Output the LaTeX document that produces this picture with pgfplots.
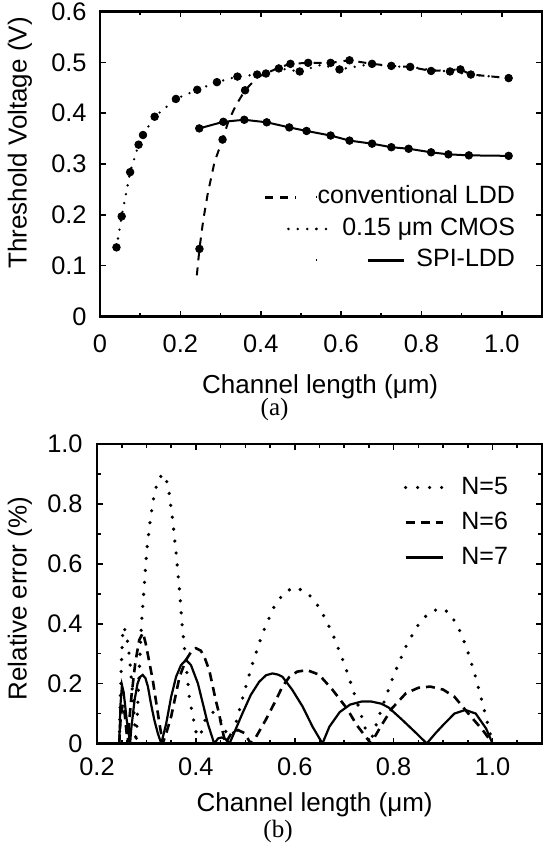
\documentclass[border=0pt]{standalone}
\usepackage{fontspec}
\setmainfont{Liberation Sans}
\newfontfamily\capfont{Liberation Serif}
\usepackage{pgfplots}
\pgfplotsset{compat=1.18}

\pgfplotsset{
  scanaxis/.style={
    scale only axis, anchor=south west,
    axis line style={line width=1.1pt},
    tick align=inside, tick pos=both,
    major tick length=2.8pt, minor tick length=1.8pt,
    every tick/.append style={line width=0.8pt, black},
    tick label style={font=\fontsize{12.7}{12.7}\selectfont, inner sep=0pt},
    label style={font=\fontsize{13}{13}\selectfont},
  },
  solidline/.style={black, line width=1.1pt, mark=none},
  dashline/.style={black, line width=1.3pt, dash pattern=on 4.5pt off 3pt, mark=none},
  dotline/.style={black, line width=1.8pt, line cap=round, dash pattern=on 0pt off 6pt, mark=none},
  dots/.style={only marks, mark=*, mark size=1.9pt, black, forget plot},
  % legend samples of panel (a), each set just left of its right-aligned text
  imgLDD/.style={legend image code/.code={\path (0,0) -- (0.1pt,0);
      \draw[black, line width=1.1pt, dash pattern=on 4pt off 3.5pt, overlay] (-25.5pt,0) -- (-10pt,0);}},
  imgCMOS/.style={legend image code/.code={\path (0,0) -- (0.1pt,0);
      \draw[black, line width=1.4pt, line cap=round, dash pattern=on 0pt off 4.7pt, overlay] (-13.9pt,0) -- (5.1pt,0);}},
  imgSPI/.style={legend image code/.code={\path (0,0) -- (0.1pt,0);
      \draw[black, line width=1.1pt, overlay] (25.7pt,0) -- (43.7pt,0);}},
}

\begin{document}
\begin{tikzpicture}
\useasboundingbox (0,0) rectangle (272.5pt,426pt);

% ---- (a) threshold voltage ----
\begin{axis}[scanaxis,
  at={(50pt,267.75pt)}, width=221pt, height=152.5pt,
  xmin=0, xmax=1.1, ymin=0, ymax=0.6,
  xtick={0,0.2,0.4,0.6,0.8,1.0}, xticklabels={0,0.2,0.4,0.6,0.8,1.0},
  minor xtick={0.1,0.3,0.5,0.7,0.9},
  ytick={0,0.1,0.2,0.3,0.4,0.5,0.6}, yticklabels={0,0.1,0.2,0.3,0.4,0.5,0.6},
  xticklabel style={anchor=north, yshift=-9pt},
  yticklabel style={anchor=east, xshift=-6.5pt},
  xlabel={Channel length (μm)},
  xlabel style={at={(axis description cs:0.498,-0.251)}, anchor=base},
  ylabel={Threshold Voltage (V)},
  ylabel style={at={(axis description cs:-0.181,0.569)}, anchor=center},
  legend cell align=right,
  legend style={at={(0.939,0.428)}, anchor=north east, draw=none, fill=none,
    inner sep=0pt, outer sep=0pt, row sep=4.25pt, column sep=0pt,
    font=\fontsize{12.5}{12.5}\selectfont,
    nodes={inner sep=0pt, text height=9pt, text depth=2.5pt}},
]
\addplot[black, line width=1.0pt, dash pattern=on 4pt off 3.5pt, imgLDD]
  coordinates {(0.241,0.081) (0.2475,0.133) (0.257,0.19) (0.268,0.241) (0.285,0.304)
  (0.305,0.348) (0.32,0.385) (0.338,0.415) (0.361,0.445) (0.392,0.471) (0.413,0.478)
  (0.446,0.49) (0.474,0.497) (0.518,0.499) (0.574,0.499) (0.621,0.504) (0.677,0.497)
  (0.725,0.493) (0.772,0.491) (0.824,0.483) (0.897,0.486) (0.923,0.476) (1.017,0.469)};
\addlegendentry{conventional LDD}
\addplot[black, line width=1.3pt, line cap=round, dash pattern=on 0pt off 4.5pt, imgCMOS]
  coordinates {(0.041,0.136) (0.054,0.197) (0.075,0.284) (0.096,0.338) (0.107,0.357)
  (0.136,0.393) (0.189,0.428) (0.242,0.446) (0.291,0.461) (0.342,0.472) (0.391,0.476)
  (0.445,0.488) (0.497,0.482) (0.55,0.495) (0.596,0.486) (0.677,0.497) (0.725,0.492)
  (0.772,0.491) (0.824,0.485) (0.871,0.482) (0.923,0.476) (1.017,0.469)};
\addlegendentry{0.15 μm CMOS}
\addplot[black, line width=1.0pt, imgSPI]
  coordinates {(0.247,0.37) (0.307,0.383) (0.359,0.387) (0.415,0.382) (0.471,0.372)
  (0.514,0.365) (0.574,0.356) (0.621,0.346) (0.677,0.34) (0.725,0.333) (0.768,0.33)
  (0.824,0.323) (0.867,0.319) (0.918,0.317) (1.017,0.316)};
\addlegendentry{SPI-LDD}
% markers
\addplot[dots] coordinates {(0.041,0.136) (0.054,0.197) (0.075,0.284) (0.096,0.338)
  (0.107,0.357) (0.136,0.393) (0.189,0.428) (0.242,0.446) (0.291,0.461) (0.342,0.472)
  (0.391,0.476) (0.445,0.488) (0.497,0.482) (0.596,0.486) (0.677,0.497) (0.772,0.491)
  (0.871,0.482) (1.017,0.469)};
\addplot[dots] coordinates {(0.2475,0.133) (0.305,0.348) (0.361,0.445) (0.413,0.478)
  (0.474,0.497) (0.518,0.499) (0.574,0.499) (0.621,0.504) (0.725,0.493) (0.824,0.483)
  (0.897,0.486) (0.923,0.476)};
\addplot[dots] coordinates {(0.247,0.37) (0.307,0.383) (0.359,0.387) (0.415,0.382)
  (0.471,0.372) (0.514,0.365) (0.574,0.356) (0.621,0.346) (0.677,0.34) (0.725,0.333)
  (0.768,0.33) (0.824,0.323) (0.867,0.319) (0.918,0.317) (1.017,0.316)};
\end{axis}
\node[anchor=base, font=\capfont\fontsize{12.5}{12.5}\selectfont] at (137.3pt,218pt) {(a)};

% ---- (b) relative error ----
\begin{axis}[scanaxis,
  at={(48.5pt,54.25pt)}, width=222.5pt, height=149.75pt,
  xmin=0.2, xmax=1.1, ymin=0, ymax=1.0,
  xtick={0.2,0.4,0.6,0.8,1.0}, xticklabels={0.2,0.4,0.6,0.8,1.0},
  minor xtick={0.25,0.3,0.35,0.45,0.5,0.55,0.65,0.7,0.75,0.85,0.9,0.95,1.05},
  ytick={0,0.2,0.4,0.6,0.8,1.0}, yticklabels={0,0.2,0.4,0.6,0.8,1.0},
  minor ytick={0.1,0.3,0.5,0.7,0.9},
  xticklabel style={anchor=north, yshift=-7pt},
  yticklabel style={anchor=east, xshift=-7pt},
  xlabel={Channel length (μm)},
  xlabel style={at={(axis description cs:0.489,-0.2254)}, anchor=base},
  ylabel={Relative error (\%)},
  ylabel style={at={(axis description cs:-0.173,0.484)}, anchor=center},
  legend style={at={(0.9236,0.893)}, anchor=north east, draw=none, fill=none,
    inner sep=0pt, outer sep=0pt, row sep=6pt, column sep=8.5pt,
    font=\fontsize{12.5}{12.5}\selectfont,
    nodes={inner sep=0pt, text height=9pt, text depth=2.5pt}},
  legend image code/.code={\draw[#1] (0pt,0pt) -- (18.5pt,0pt);},
]
\addplot[dotline] coordinates {
  (0.245,0) (0.2473,0.149) (0.2495,0.276) (0.2518,0.36) (0.254,0.39) (0.2603,0.36)
  (0.2665,0.276) (0.2728,0.149) (0.279,0)
  (0.283,0.15) (0.287,0.30) (0.290,0.40) (0.293,0.47) (0.297,0.56) (0.301,0.65)
  (0.308,0.75) (0.316,0.835) (0.325,0.885) (0.334,0.90) (0.341,0.875) (0.346,0.835)
  (0.353,0.746) (0.36,0.635) (0.367,0.51) (0.372,0.40) (0.378,0.30) (0.387,0.15)
  (0.397,0.065) (0.405,0)
  (0.413,0.05) (0.42,0.085) (0.428,0.10) (0.436,0.105) (0.444,0.095) (0.452,0.07)
  (0.461,0.038) (0.47,0)
  (0.4917,0.135) (0.5133,0.261) (0.535,0.369) (0.5567,0.452) (0.5783,0.504) (0.6,0.522)
  (0.6253,0.504) (0.6507,0.452) (0.676,0.369) (0.7013,0.261) (0.7267,0.135) (0.752,0)
  (0.7758,0.117) (0.7997,0.226) (0.8235,0.320) (0.8473,0.391) (0.8712,0.437) (0.895,0.452)
  (0.9125,0.437) (0.93,0.391) (0.9475,0.320) (0.965,0.226) (0.9825,0.117) (1.0,0)};
\addlegendentry{N=5}
\addplot[dashline] coordinates {
  (0.245,0) (0.248,0.09) (0.252,0.13) (0.256,0.1) (0.262,0)
  (0.266,0.09) (0.2698,0.16) (0.2775,0.27) (0.2853,0.345) (0.293,0.37) (0.299,0.33)
  (0.306,0.27) (0.313,0.21) (0.319,0.145) (0.326,0.07) (0.333,0)
  (0.342,0.045) (0.35,0.09) (0.36,0.168) (0.367,0.223) (0.38,0.279) (0.39,0.305)
  (0.40,0.318) (0.41,0.31) (0.417,0.29) (0.427,0.245) (0.433,0.2) (0.44,0.145)
  (0.447,0.10) (0.452,0.055) (0.46,0)
  (0.472,0.035) (0.485,0.045) (0.498,0.035) (0.511,0)
  (0.521,0.02) (0.541,0.078) (0.562,0.145) (0.575,0.19) (0.589,0.222) (0.605,0.240)
  (0.625,0.245) (0.649,0.23) (0.676,0.18) (0.705,0.118) (0.726,0.06) (0.754,0)
  (0.775,0.06) (0.797,0.118) (0.825,0.168) (0.85,0.186) (0.874,0.19) (0.9,0.18)
  (0.923,0.156) (0.951,0.10) (0.98,0.045) (1.0,0)};
\addlegendentry{N=6}
\addplot[solidline] coordinates {
  (0.245,0) (0.2475,0.13) (0.2505,0.195) (0.254,0.17) (0.26,0.08) (0.267,0)
  (0.269,0.045) (0.276,0.145) (0.282,0.20) (0.287,0.222) (0.2925,0.229) (0.298,0.218)
  (0.303,0.19) (0.309,0.134) (0.316,0.078) (0.323,0.034) (0.33,0)
  (0.34,0.067) (0.35,0.156) (0.36,0.223) (0.37,0.262) (0.38,0.279) (0.39,0.262)
  (0.404,0.201) (0.414,0.134) (0.424,0.067) (0.437,0)
  (0.445,0.017) (0.452,0.02) (0.46,0.015) (0.468,0)
  (0.477,0.034) (0.494,0.10) (0.511,0.162) (0.528,0.206) (0.542,0.228) (0.555,0.234)
  (0.566,0.23) (0.575,0.223) (0.595,0.179) (0.616,0.123) (0.636,0.056) (0.656,0)
  (0.67,0.056) (0.691,0.105) (0.712,0.13) (0.735,0.14) (0.755,0.14) (0.775,0.133)
  (0.79,0.12) (0.818,0.078) (0.846,0.034) (0.867,0)
  (0.885,0.035) (0.902,0.065) (0.923,0.10) (0.945,0.112) (0.966,0.10) (0.987,0.05) (1.0,0)};
\addlegendentry{N=7}
\end{axis}
\node[anchor=base, font=\capfont\fontsize{12.5}{12.5}\selectfont] at (139pt,7pt) {(b)};
\end{tikzpicture}
\end{document}
